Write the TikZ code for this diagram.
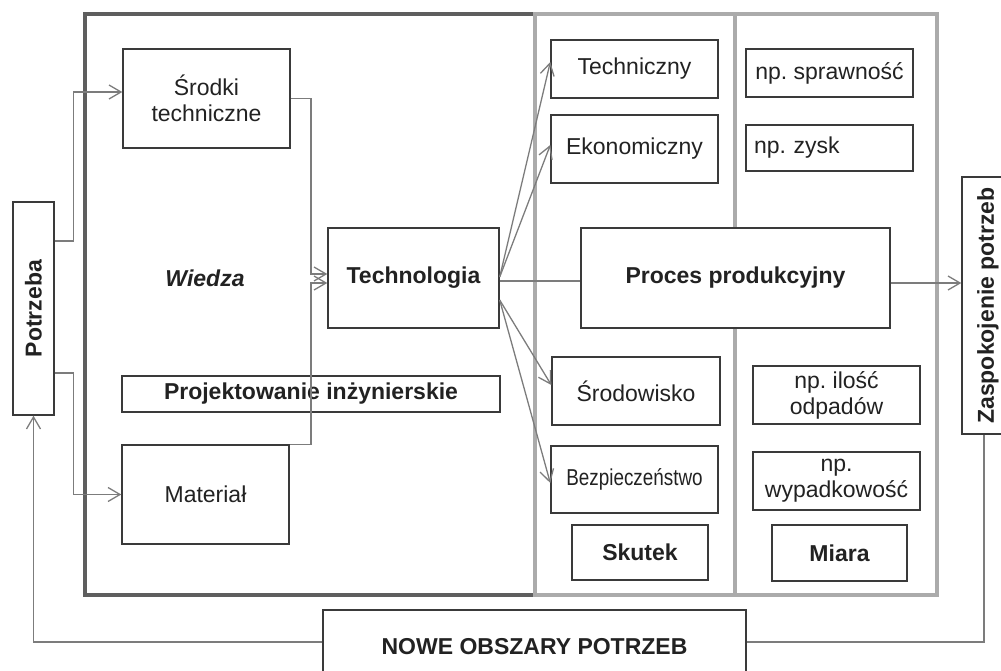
\documentclass[tikz,border=0pt]{standalone}
\usepackage{fontspec}
\setmainfont{Liberation Sans}
\usepackage{graphicx}
\usetikzlibrary{arrows.meta,positioning}

\definecolor{boxline}{HTML}{3A3A3A}
\definecolor{linkline}{HTML}{7C7C7C}
\definecolor{darkframe}{HTML}{5E5E5E}
\definecolor{lightframe}{HTML}{ABABAB}
\definecolor{txt}{HTML}{222222}

\def\fs{\fontsize{23}{26}\selectfont}

\tikzset{
	box/.style={draw=boxline, line width=1.4pt, fill=white, inner sep=0pt, text=txt, align=center},
	link/.style={draw=linkline, line width=1.3pt},
	linkarrow/.style={link, -{Straight Barb[length=12pt, width=14pt, line width=1.3pt]}},
	frame/.style={line width=3.5pt}
}

\begin{document}
\frenchspacing
\begin{tikzpicture}[x=1pt, y=-1pt, font=\fs]

		\useasboundingbox (0,0) rectangle (1001,671);

		% Frames: knowledge, effects, measures
		\draw[frame, darkframe] (85,14) rectangle (535,595);
		\draw[frame, lightframe] (535,14) rectangle (735,595);
		\draw[frame, lightframe] (735,14) rectangle (937,595);

		% Left part
		\node[box, minimum width=41, minimum height=213] (potrzeba) at (33.5,308.5) {\rotatebox{90}{\bfseries Potrzeba}};
		\node[box, minimum width=167, minimum height=99] (srodki) at (206.5,98.5) {Środki\\techniczne};
		\node[text=txt, font=\fs\bfseries\itshape] (wiedza) at (205,278) {Wiedza};
		\node[box, minimum width=171, minimum height=100, font=\fs\bfseries] (technologia) at (413.5,278) {Technologia};
		\node[box, minimum width=378, minimum height=36, font=\fs\bfseries] (projekt) at (311,394) {Projektowanie inżynierskie};
		\node[box, minimum width=167, minimum height=99] (material) at (205.5,494.5) {Materiał};
		\coordinate (jn) at (311,278);

		% Effects column
		\node[box, minimum width=167, minimum height=58] (techniczny) at (634.5,69) {Techniczny};
		\node[box, minimum width=167, minimum height=68] (ekonomiczny) at (634.5,149) {Ekonomiczny};
		\node[box, minimum width=168, minimum height=68] (srodowisko) at (636,391) {Środowisko};
		\node[box, minimum width=167, minimum height=67] (bezpieczenstwo) at (634.5,479.5) {\scalebox{0.82}[1]{Bezpieczeństwo}};
		\node[box, minimum width=136, minimum height=55, font=\fs\bfseries] (skutek) at (640,552.5) {Skutek};

		% Measures column
		\node[box, minimum width=167, minimum height=48] (sprawnosc) at (829.5,73) {np. sprawność};
		\node[box, minimum width=167, minimum height=46, inner xsep=8pt, text width=151pt, align=left] (zysk) at (829.5,148) {np. zysk};
		\node[box, minimum width=167, minimum height=58] (odpady) at (836.5,395) {np. ilość\\odpadów};
		\node[box, minimum width=167, minimum height=58] (wypadki) at (836.5,481) {np.\\wypadkowość};
		\node[box, minimum width=135, minimum height=56, font=\fs\bfseries] (miara) at (839.5,553) {Miara};

		% Process, outcome and feedback
		\node[box, minimum width=309, minimum height=100, font=\fs\bfseries] (proces) at (735.5,278) {Proces produkcyjny};
		\node[box, minimum width=52, minimum height=257] (zaspokojenie) at (988,305.5) {\rotatebox{90}{\bfseries Zaspokojenie potrzeb}};
		\node[box, minimum width=423, minimum height=74, font=\fs\bfseries] (nowe) at (534.5,647) {NOWE OBSZARY POTRZEB};

		% Need -> means and material
		\draw[linkarrow] ([yshift=67.5]potrzeba.east) -- ++(19,0) |- ([yshift=6.5]srodki.west);
		\draw[linkarrow] ([yshift=-64.5]potrzeba.east) -- ++(19,0) |- (material.west);

		% Means and material -> technology
		\draw[linkarrow] (srodki.east) -| ([yshift=4]jn) -- ([yshift=4]technologia.west);
		\draw[linkarrow] (material.north east) -| ([yshift=-5]jn) -- ([yshift=-5]technologia.west);

		% Technology -> effects
		\draw[linkarrow] ([yshift=1]technologia.east) -- ([yshift=7]techniczny.west);
		\draw[linkarrow] ([yshift=1]technologia.east) -- ([yshift=4]ekonomiczny.west);
		\draw[link] ([yshift=-3]technologia.east) -- ([yshift=-3]proces.west);
		\draw[linkarrow] ([yshift=-22]technologia.east) -- ([yshift=6]srodowisko.west);
		\draw[linkarrow] ([yshift=-22]technologia.east) -- ([yshift=-3.5]bezpieczenstwo.west);

		% Process -> satisfied need, feedback loop
		\draw[linkarrow] ([yshift=-5]proces.east) -- ([yshift=22.5]zaspokojenie.west);
		\draw[linkarrow] ([yshift=5]nowe.west) -| (potrzeba.south);
		\draw[link] ([yshift=5]nowe.east) -| ([xshift=-4]zaspokojenie.south);

\end{tikzpicture}
\end{document}
